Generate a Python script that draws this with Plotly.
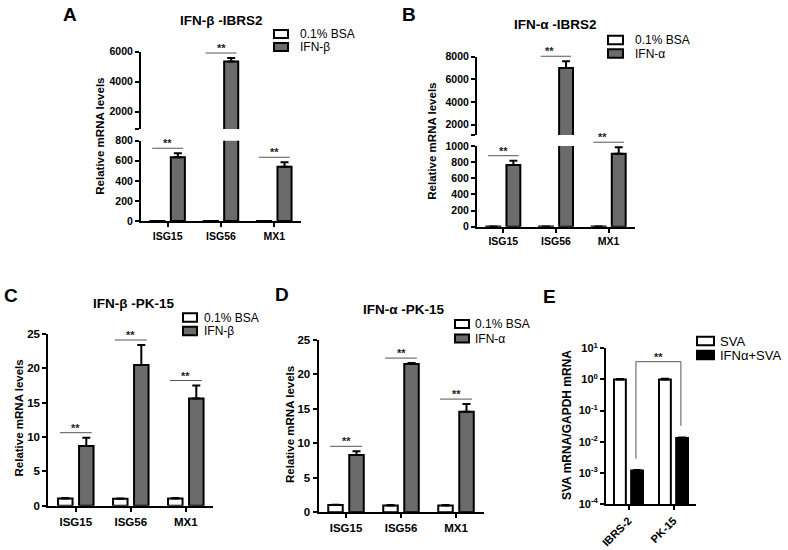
import math
import plotly.graph_objects as go

W, H = 788, 550
FONT = "Liberation Sans, Arial, Helvetica, sans-serif"
GRAY = "#6b6b6b"

# ---------------- data ----------------
genes = ["ISG15", "ISG56", "MX1"]
cells = ["IBRS-2", "PK-15"]

# Panel A: IFN-beta, IBRS2
a_bsa = [1.0, 1.0, 1.0]
a_bsa_err = [0.1, 0.1, 0.1]
a_ifn = [635, 5350, 540]
a_ifn_err = [40, 230, 45]

# Panel B: IFN-alpha, IBRS2
b_bsa = [1.0, 1.0, 1.0]
b_bsa_err = [0.1, 0.1, 0.1]
b_ifn = [765, 7000, 905]
b_ifn_err = [53, 600, 80]

# Panel C: IFN-beta, PK-15
c_bsa = [1.05, 1.0, 1.05]
c_bsa_err = [0.08, 0.05, 0.08]
c_ifn = [8.7, 20.5, 15.6]
c_ifn_err = [1.2, 2.9, 1.9]

# Panel D: IFN-alpha, PK-15
d_bsa = [1.05, 1.0, 1.0]
d_bsa_err = [0.05, 0.05, 0.05]
d_ifn = [8.3, 21.5, 14.6]
d_ifn_err = [0.55, 0.15, 1.1]

# Panel E: SVA
e_sva = [1.0, 1.0]
e_sva_err = [0.04, 0.06]
e_ifn = [0.00118, 0.0131]
e_ifn_err = [0.00005, 0.0006]

# tick labels
a_lower_ticks = [0, 200, 400, 600, 800]
a_upper_ticks = [2000, 4000, 6000]
b_lower_ticks = [0, 200, 400, 600, 800, 1000]
b_upper_ticks = [2000, 4000, 6000, 8000]
cd_ticks = [0, 5, 10, 15, 20, 25]
e_tickvals = [1e-4, 1e-3, 1e-2, 1e-1, 1, 10]
e_ticktext = ["10<sup>-4</sup>", "10<sup>-3</sup>", "10<sup>-2</sup>",
              "10<sup>-1</sup>", "10<sup>0</sup>", "10<sup>1</sup>"]

legend_bsa = "0.1% BSA"
legend_b = "IFN-β"
legend_a = "IFN-α"
legend_e = ["SVA", "IFNα+SVA"]

# ---------------- helpers ----------------
def xd(a, b):
    return [a / W, b / W]


def yd(top, bot):
    return [1 - bot / H, 1 - top / H]


def yax(domain, rng, tickvals, ticktext=None, size=10.5, typ="linear", anchor=None, minor_at=None):
    d = dict(domain=domain, range=rng, type=typ, tickmode="array", tickvals=tickvals,
             showline=True, linecolor="black", linewidth=2, ticks="outside", ticklen=4,
             tickwidth=2, tickcolor="black", showgrid=False, zeroline=False, automargin=False,
             tickfont=dict(family=FONT, size=size, color="black", weight="bold"),
             anchor=anchor, fixedrange=True)
    if ticktext is not None:
        d["ticktext"] = ticktext
    if minor_at is not None:
        d["minor"] = dict(tickmode="array", tickvals=minor_at, ticks="outside", ticklen=4,
                          tickwidth=2, tickcolor="black", showgrid=False)
    return d


def xax(domain, cats, anchor, size=10.5, visible=True, tickangle=0):
    n = len(cats)
    d = dict(domain=domain, type="category", categoryorder="array", categoryarray=cats,
             range=[-0.5, n - 0.5], anchor=anchor, showgrid=False, zeroline=False,
             fixedrange=True, automargin=False)
    if visible:
        d.update(showline=True, linecolor="black", linewidth=2, ticks="outside", ticklen=4,
                 tickwidth=2, tickcolor="black", tickangle=tickangle,
                 tickfont=dict(family=FONT, size=size, color="black", weight="bold"))
    else:
        d.update(visible=False)
    return d


fig = go.Figure()


def add_bars(xa, ya, cats, series):
    for vals, errs, name, col in series:
        fig.add_trace(go.Bar(
            x=cats, y=vals, name=name, xaxis=xa, yaxis=ya, showlegend=False,
            marker=dict(color=col, line=dict(color="black", width=2)),
            error_y=dict(type="data", array=errs, arrayminus=[0] * len(errs), symmetric=False,
                         color="black", thickness=2, width=4)))


SIG_FONT = dict(family=FONT, size=11, color="#222222", weight="bold")


def sig_data(xref, yref, i, y, half=0.29):
    fig.add_shape(type="line", xref=xref, yref=yref, x0=i - half, x1=i + half, y0=y, y1=y,
                  line=dict(color="#555555", width=1))
    fig.add_annotation(xref=xref, yref=yref, x=i, y=y, text="**", showarrow=False,
                       yanchor="bottom", yshift=-3, font=SIG_FONT)


def sig_paper(xpx, n, i, y, rng, ypx, half=0.29):
    # position given relative to an axis' pixel box, for marks just outside its range
    left, right = xpx
    top, bot = ypx
    cw = (right - left) / n
    cx = left + (i + 0.5) * cw
    py = bot - (y - rng[0]) / (rng[1] - rng[0]) * (bot - top)
    fig.add_shape(type="line", xref="paper", yref="paper",
                  x0=(cx - half * cw) / W, x1=(cx + half * cw) / W,
                  y0=1 - py / H, y1=1 - py / H, line=dict(color="#555555", width=1))
    fig.add_annotation(xref="paper", yref="paper", x=cx / W, y=1 - py / H, text="**",
                       showarrow=False, yanchor="bottom", yshift=-3, font=SIG_FONT)


def text(x, y, s, size, bold=True, xanchor="center", angle=0):
    fig.add_annotation(xref="paper", yref="paper", x=x / W, y=1 - y / H, text=s,
                       showarrow=False, xanchor=xanchor, yanchor="middle", textangle=angle,
                       font=dict(family=FONT, size=size, color="black",
                                 weight="bold" if bold else "normal"))


def legend(x0, yc, dy, bw, bh, tx, size, labels, fills):
    for k, (lab, col) in enumerate(zip(labels, fills)):
        y = yc + k * dy
        fig.add_shape(type="rect", xref="paper", yref="paper",
                      x0=x0 / W, x1=(x0 + bw) / W, y0=1 - (y + bh / 2) / H, y1=1 - (y - bh / 2) / H,
                      fillcolor=col, line=dict(color="black", width=2))
        text(tx, y, lab, size, bold=False, xanchor="left")


layout = {}

# ---------------- Panel A (broken axis) ----------------
A_xpx = (141, 301)
A_x = xd(*A_xpx)
A_lo_px, A_up_px = (140.7, 221), (51.7, 129)
A_lo_rng, A_up_rng = [0, 800], [850, 6000]
layout["xaxis"] = xax(A_x, genes, "y")
layout["yaxis"] = yax(yd(*A_lo_px), A_lo_rng, a_lower_ticks, anchor="x")
layout["xaxis2"] = xax(A_x, genes, "y2", visible=False)
layout["yaxis2"] = yax(yd(*A_up_px), A_up_rng, a_upper_ticks, anchor="x2",
                       minor_at=[A_up_rng[0]])
A_series = [(a_bsa, a_bsa_err, legend_bsa, "white"), (a_ifn, a_ifn_err, legend_b, GRAY)]
add_bars("x", "y", genes, A_series)
add_bars("x2", "y2", genes, A_series)

# ---------------- Panel B (broken axis) ----------------
B_xpx = (477, 635)
B_x = xd(*B_xpx)
B_lo_px, B_up_px = (146, 226.7), (56.7, 135)
B_lo_rng, B_up_rng = [0, 1000], [1100, 8000]
layout["xaxis3"] = xax(B_x, genes, "y3")
layout["yaxis3"] = yax(yd(*B_lo_px), B_lo_rng, b_lower_ticks, anchor="x3")
layout["xaxis4"] = xax(B_x, genes, "y4", visible=False)
layout["yaxis4"] = yax(yd(*B_up_px), B_up_rng, b_upper_ticks, anchor="x4",
                       minor_at=[B_up_rng[0]])
B_series = [(b_bsa, b_bsa_err, legend_bsa, "white"), (b_ifn, b_ifn_err, legend_a, GRAY)]
add_bars("x3", "y3", genes, B_series)
add_bars("x4", "y4", genes, B_series)

# ---------------- Panel C ----------------
C_px = (334, 505.7)
layout["xaxis5"] = xax(xd(48.3, 213.3), genes, "y5", size=11.5)
layout["yaxis5"] = yax(yd(*C_px), [0, 25], cd_ticks, size=11.5, anchor="x5")
add_bars("x5", "y5", genes, [(c_bsa, c_bsa_err, legend_bsa, "white"),
                             (c_ifn, c_ifn_err, legend_b, GRAY)])

# ---------------- Panel D ----------------
D_px = (340, 512.3)
layout["xaxis6"] = xax(xd(318.5, 483.5), genes, "y6", size=11.5)
layout["yaxis6"] = yax(yd(*D_px), [0, 25], cd_ticks, size=11.5, anchor="x6")
add_bars("x6", "y6", genes, [(d_bsa, d_bsa_err, legend_bsa, "white"),
                             (d_ifn, d_ifn_err, legend_a, GRAY)])

# ---------------- Panel E (log) ----------------
E_px = (348.3, 504)
layout["xaxis7"] = xax(xd(606, 696), cells, "y7", size=11, tickangle=-45)
layout["yaxis7"] = yax(yd(*E_px), [-4, 1], e_tickvals, e_ticktext, size=11, typ="log", anchor="x7")
add_bars("x7", "y7", cells, [(e_sva, e_sva_err, legend_e[0], "white"),
                             (e_ifn, e_ifn_err, legend_e[1], "black")])

# ---------------- significance marks ----------------
PAD_PX = 5


def upp(rng, px):
    return (rng[1] - rng[0]) / (px[1] - px[0])


def broken_sig(i, top, xpx, xa_lo, ya_lo, lo_rng, lo_px, xa_up, ya_up, up_rng, up_px):
    y_lo = top + PAD_PX * upp(lo_rng, lo_px)
    if top < lo_rng[1]:
        if y_lo <= lo_rng[1]:
            sig_data(xa_lo, ya_lo, i, y_lo)
        else:
            sig_paper(xpx, 3, i, y_lo, lo_rng, lo_px)
    else:
        y_up = top + PAD_PX * upp(up_rng, up_px)
        if y_up <= up_rng[1]:
            sig_data(xa_up, ya_up, i, y_up)
        else:
            sig_paper(xpx, 3, i, y_up, up_rng, up_px)


for i in range(3):
    broken_sig(i, a_ifn[i] + a_ifn_err[i], A_xpx, "x", "y", A_lo_rng, A_lo_px,
               "x2", "y2", A_up_rng, A_up_px)
    broken_sig(i, b_ifn[i] + b_ifn_err[i], B_xpx, "x3", "y3", B_lo_rng, B_lo_px,
               "x4", "y4", B_up_rng, B_up_px)
    sig_data("x5", "y5", i, c_ifn[i] + c_ifn_err[i] + PAD_PX * upp([0, 25], C_px))
    sig_data("x6", "y6", i, d_ifn[i] + d_ifn_err[i] + PAD_PX * upp([0, 25], D_px))

# E bracket between the IFN+SVA bars
off = 0.165
dec_pad = 0.37
br_top = max(e_sva) * 10 ** 0.57
yl = (e_ifn[0] + e_ifn_err[0]) * 10 ** dec_pad
yr = (e_ifn[1] + e_ifn_err[1]) * 10 ** dec_pad
for (x0, y0, x1, y1) in [(off, yl, off, br_top), (off, br_top, 1 + off, br_top),
                         (1 + off, br_top, 1 + off, yr)]:
    fig.add_shape(type="line", xref="x7", yref="y7", x0=x0, x1=x1, y0=y0, y1=y1,
                  line=dict(color="#555555", width=1))
fig.add_annotation(xref="x7", yref="y7", x=0.5 + off, y=math.log10(br_top), text="**",
                   showarrow=False, yanchor="bottom", yshift=-3, font=SIG_FONT)

# ---------------- titles, letters, axis titles ----------------
text(221.7, 20, "IFN-β -IBRS2", 13.5)
text(555, 25, "IFN-α -IBRS2", 13.5)
text(133.5, 303.3, "IFN-β -PK-15", 13.5)
text(403.5, 309.3, "IFN-α -PK-15", 13.5)

for (x, y, s) in [(70, 15, "A"), (409, 14, "B"), (11, 295, "C"), (282, 294, "D"), (549, 296, "E")]:
    text(x, y, s, 19)

text(100, 136.7, "Relative mRNA levels", 11.5, angle=-90)
text(432, 141.7, "Relative mRNA levels", 11.5, angle=-90)
text(18, 418.5, "Relative mRNA levels", 11.5, angle=-90)
text(290, 425, "Relative mRNA levels", 11.5, angle=-90)
text(567, 425, "SVA mRNA/GAPDH mRNA", 12, angle=-90)

# ---------------- legends ----------------
legend(274, 34, 13, 14, 8, 298, 12, [legend_bsa, legend_b], ["white", GRAY])
legend(608, 40, 13.5, 15, 8.5, 633, 12, [legend_bsa, legend_a], ["white", GRAY])
legend(183, 317.5, 13.5, 14, 8.5, 202, 12, [legend_bsa, legend_b], ["white", GRAY])
legend(455, 324, 14.5, 14, 8, 473, 12, [legend_bsa, legend_a], ["white", GRAY])
legend(697, 341, 14, 17, 8.5, 718, 13, legend_e, ["white", "black"])

fig.update_layout(
    width=W, height=H, margin=dict(l=0, r=0, t=0, b=0, autoexpand=False),
    paper_bgcolor="white", plot_bgcolor="white",
    barmode="group", bargap=0.236, bargroupgap=0.31,
    showlegend=False, font=dict(family=FONT, color="black"),
    **layout,
)

fig.write_html("out.html", config={"displayModeBar": False},
               post_script="document.body.style.margin='0';")
